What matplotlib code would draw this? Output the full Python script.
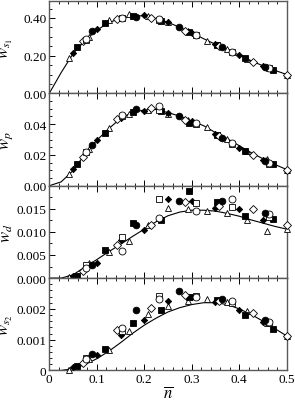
import numpy as np
import matplotlib
matplotlib.use('Agg')
import matplotlib.pyplot as plt
from matplotlib.ticker import MultipleLocator

plt.rcParams['font.family'] = ['Liberation Serif', 'DejaVu Serif']
plt.rcParams['mathtext.fontset'] = 'stix'

# theory curves
curve_n = [0.0, 0.025, 0.05, 0.075, 0.1, 0.125, 0.15, 0.175, 0.2, 0.225, 0.25,
           0.275, 0.3, 0.325, 0.35, 0.375, 0.4, 0.425, 0.45, 0.475, 0.5]
curve_s1 = [0.0, 0.11, 0.21, 0.28, 0.335, 0.375, 0.398, 0.41, 0.412, 0.397, 0.377,
            0.35, 0.322, 0.29, 0.26, 0.231, 0.203, 0.173, 0.146, 0.122, 0.1]
curve_p = [0.0, 0.0025, 0.0098, 0.0205, 0.0295, 0.037, 0.0437, 0.0477, 0.0492, 0.0495, 0.0475,
           0.0452, 0.042, 0.039, 0.0345, 0.0305, 0.026, 0.0215, 0.0175, 0.0138, 0.0105]
curve_d = [0.0, 0.0, 0.0007, 0.0024, 0.004, 0.0057, 0.0073, 0.009, 0.0106, 0.0122, 0.0135,
           0.0143, 0.0147, 0.0147, 0.0145, 0.014, 0.0134, 0.0126, 0.0119, 0.0112, 0.0106]
curve_s2 = [0.0, 0.0, 0.00006, 0.00019, 0.00038, 0.00062, 0.0009, 0.0012, 0.00147, 0.0017, 0.0019,
            0.00204, 0.00214, 0.0022, 0.0022, 0.00214, 0.002, 0.00182, 0.0016, 0.00136, 0.00112]

# simulation points, one entry per symbol
tri_n = [0.042, 0.083, 0.125, 0.167, 0.208, 0.25, 0.292, 0.333, 0.375, 0.417, 0.458, 0.5]
tri_s1 = [0.185, 0.30, 0.39, 0.42, 0.41, 0.377, 0.33, 0.279, 0.233, 0.183, 0.14, 0.1]
tri_p = [0.0079, 0.024, 0.0374, 0.0467, 0.0494, 0.0467, 0.043, 0.038, 0.0305, 0.0224, 0.0176, 0.0104]
tri_d = [0.0002, 0.0032, 0.0057, 0.008, 0.0114, 0.0152, 0.015, 0.0145, 0.014, 0.0125, 0.0103, 0.0107]
tri_s2 = [0.00003, 0.00036, 0.00068, 0.00128, 0.00182, 0.0021, 0.00225, 0.00232, 0.00222, 0.00193, 0.00155, 0.00111]

fdia_n = [0.05, 0.1, 0.15, 0.2, 0.25, 0.3, 0.35, 0.4, 0.45]
fdia_s1 = [0.215, 0.34, 0.398, 0.416, 0.377, 0.322, 0.26, 0.205, 0.147]
fdia_p = [0.0108, 0.0299, 0.044, 0.0488, 0.047, 0.042, 0.0335, 0.0245, 0.0166]
fdia_d = [0.0004, 0.0032, 0.0082, 0.0105, 0.0171, 0.0166, 0.0152, 0.015, 0.0125]
fdia_s2 = [0.0001, 0.0005, 0.00114, 0.00163, 0.00225, 0.00238, 0.00222, 0.00195, 0.00158]

fsq_n = [0.059, 0.118, 0.176, 0.235, 0.294, 0.353, 0.412, 0.471]
fsq_s1 = [0.244, 0.373, 0.41, 0.386, 0.325, 0.255, 0.185, 0.125]
fsq_p = [0.0144, 0.0344, 0.0477, 0.0488, 0.0406, 0.0331, 0.0224, 0.014]
fsq_d = [0.0005, 0.006, 0.0119, 0.0126, 0.0188, 0.0164, 0.0135, 0.0128]
fsq_s2 = [0.00014, 0.00071, 0.00154, 0.00197, 0.0024, 0.00229, 0.0018, 0.00136]

odia_n = [0.071, 0.143, 0.214, 0.286, 0.357, 0.429, 0.5]
odia_s1 = [0.279, 0.394, 0.40, 0.33, 0.25, 0.167, 0.1]
odia_p = [0.0185, 0.0434, 0.0505, 0.043, 0.032, 0.0202, 0.0103]
odia_d = [0.0016, 0.0072, 0.0114, 0.0164, 0.0157, 0.015, 0.0114]
odia_s2 = [0.00025, 0.0013, 0.00203, 0.00246, 0.00225, 0.00186, 0.00111]

osq_n = [0.077, 0.154, 0.231, 0.308, 0.385, 0.462]
osq_s1 = [0.285, 0.40, 0.39, 0.31, 0.22, 0.133]
osq_p = [0.0219, 0.045, 0.049, 0.0402, 0.0269, 0.0144]
osq_d = [0.0028, 0.0089, 0.0171, 0.0162, 0.0155, 0.0133]
osq_s2 = [0.00042, 0.00129, 0.00243, 0.00243, 0.00219, 0.00154]

ocir_n = [0.077, 0.154, 0.231, 0.308, 0.385, 0.462]
ocir_s1 = [0.29, 0.402, 0.392, 0.31, 0.222, 0.134]
ocir_p = [0.022, 0.046, 0.0516, 0.041, 0.028, 0.0148]
ocir_d = [0.0021, 0.0059, 0.013, 0.0146, 0.0171, 0.0138]
ocir_s2 = [0.00036, 0.00139, 0.00232, 0.00238, 0.00227, 0.00158]

fcir_n = [0.091, 0.182, 0.273, 0.364, 0.455]
fcir_s1 = [0.33, 0.405, 0.35, 0.245, 0.14]
fcir_p = [0.0267, 0.0499, 0.0456, 0.031, 0.016]
fcir_d = [0.0029, 0.0114, 0.0167, 0.0167, 0.0142]
fcir_s2 = [0.00055, 0.00195, 0.00257, 0.00232, 0.00163]

ylabels = [r'$w_{s_1}$', r'$w_{p}$', r'$w_{d}$', r'$w_{s_2}$']
ytick_vals = [[0.0, 0.2, 0.4], [0.0, 0.02, 0.04], [0.0, 0.005, 0.01, 0.015], [0.0, 0.001, 0.002]]
ytick_text = [['0.00', '0.20', '0.40'], ['0.00', '0.02', '0.04'],
              ['0.000', '0.005', '0.010', '0.015'], ['0', '0.001', '0.002']]
ytops = [0.49, 0.06, 0.02, 0.003]
yminor = [0.05, 0.005, 0.0025, 0.0002]

series = [
    ('^', 'white', 5.0, tri_n, [tri_s1, tri_p, tri_d, tri_s2]),
    ('D', 'black', 3.2, fdia_n, [fdia_s1, fdia_p, fdia_d, fdia_s2]),
    ('s', 'black', 4.2, fsq_n, [fsq_s1, fsq_p, fsq_d, fsq_s2]),
    ('D', 'white', 4.0, odia_n, [odia_s1, odia_p, odia_d, odia_s2]),
    ('s', 'white', 4.6, osq_n, [osq_s1, osq_p, osq_d, osq_s2]),
    ('o', 'white', 5.0, ocir_n, [ocir_s1, ocir_p, ocir_d, ocir_s2]),
    ('o', 'black', 4.8, fcir_n, [fcir_s1, fcir_p, fcir_d, fcir_s2]),
]
curves = [curve_s1, curve_p, curve_d, curve_s2]

fig, axes = plt.subplots(4, 1, figsize=(2.95, 4.02), dpi=100, sharex=True)
fig.subplots_adjust(left=0.167, right=0.972, top=0.995, bottom=0.076, hspace=0)

for i, ax in enumerate(axes):
    ax.plot(curve_n, curves[i], color='black', lw=0.8, zorder=2)
    for marker, face, size, xs, ys in series:
        ax.plot(xs, ys[i], linestyle='none', marker=marker, markersize=size,
                markerfacecolor=face, markeredgecolor='black', markeredgewidth=0.6,
                zorder=3, clip_on=False)
    ax.set_xlim(0, 0.5)
    ax.set_ylim(0, ytops[i])
    ax.set_yticks(ytick_vals[i])
    ax.set_yticklabels(ytick_text[i])
    ax.yaxis.set_minor_locator(MultipleLocator(yminor[i]))
    ax.xaxis.set_major_locator(MultipleLocator(0.1))
    ax.xaxis.set_minor_locator(MultipleLocator(0.02))
    ax.tick_params(which='both', direction='in', top=True, right=False, labelsize=9.5, pad=2)
    ax.tick_params(which='major', length=4, width=0.7)
    ax.tick_params(which='minor', length=2.2, width=0.6)
    for sp in ax.spines.values():
        sp.set_color('0.35')
        sp.set_linewidth(1.0)
    ax.set_ylabel(ylabels[i], fontsize=12)
    ax.yaxis.set_label_coords(-0.145, 0.5)

axes[-1].set_xticks([0, 0.1, 0.2, 0.3, 0.4, 0.5])
axes[-1].set_xticklabels(['0', '0.1', '0.2', '0.3', '0.4', '0.5'])
axes[-1].set_xlabel(r'$\overline{n}$', fontsize=12, labelpad=0)

fig.savefig('out.png', dpi=100)
